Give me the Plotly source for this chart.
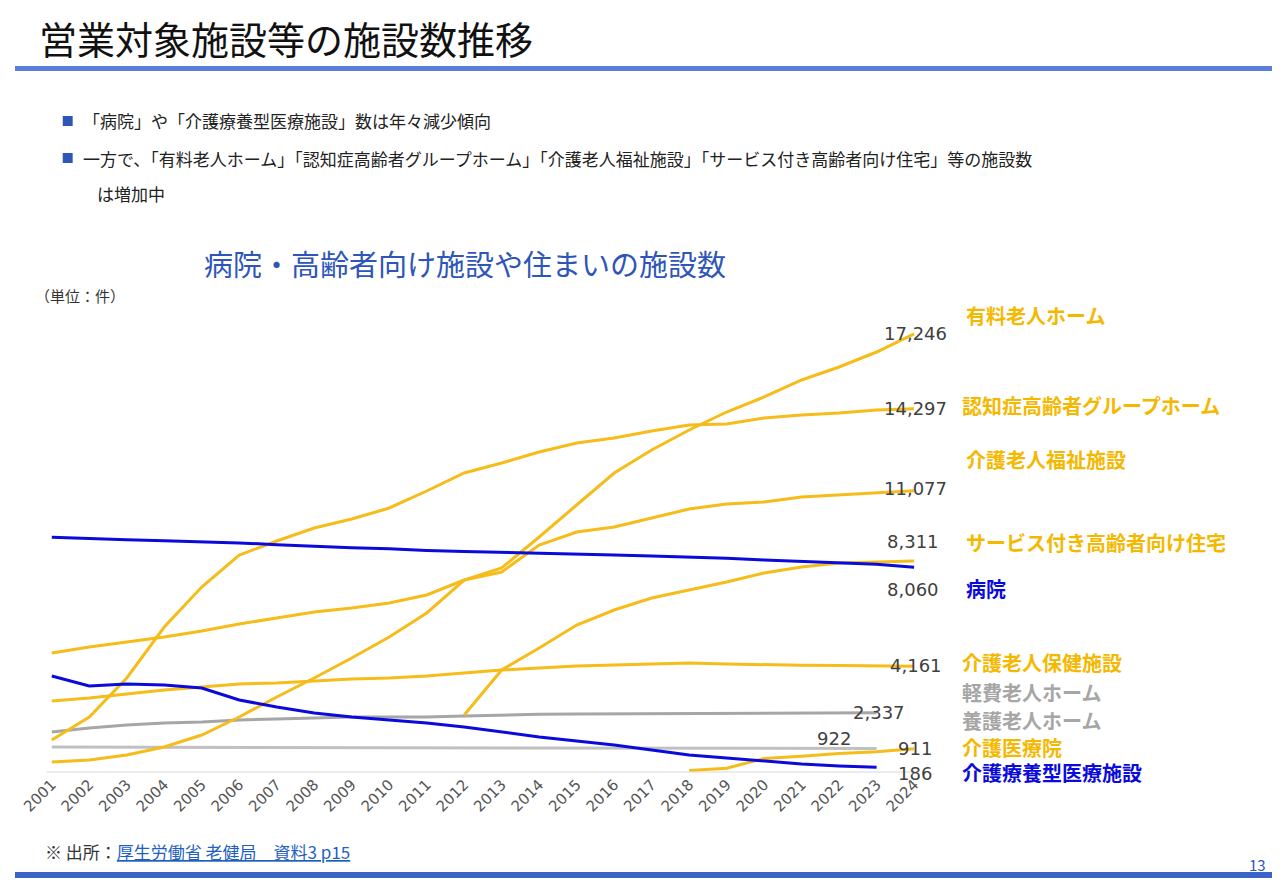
import plotly.graph_objects as go

years = list(range(2001, 2025))

# values (件)
yuryo = [394, 472, 669, 984, 1457, 2165, 2953, 3701, 4488, 5315, 6260, 7559,
         8031, 9252, 10512, 11772, 12677, 13465, 14173, 14764, 15433, 15945, 16535, 17246]
group_home = [1260, 2165, 3701, 5709, 7283, 8543, 9094, 9606, 9961, 10394, 11063, 11772,
              12165, 12598, 12953, 13150, 13425, 13661, 13701, 13937, 14055, 14134, 14252, 14297]
fukushi = [4685, 4921, 5118, 5315, 5551, 5827, 6063, 6299, 6457, 6654, 6969, 7559,
           7874, 8937, 9449, 9646, 10000, 10354, 10551, 10630, 10827, 10906, 10984, 11077]
sakoju = [None] * 11 + [2244, 4016, 4882, 5787, 6378, 6850, 7165, 7480, 7835, 8071, 8228, 8268, 8311]
byoin = [9239, 9180, 9140, 9100, 9060, 9020, 8950, 8880, 8830, 8790, 8720, 8680,
         8650, 8610, 8580, 8540, 8500, 8460, 8420, 8350, 8300, 8240, 8180, 8060]
roken = [2795, 2913, 3070, 3228, 3346, 3464, 3504, 3582, 3661, 3701, 3780, 3898,
         4016, 4095, 4174, 4213, 4252, 4292, 4252, 4213, 4200, 4190, 4180, 4161]
keihi = [1575, 1732, 1850, 1929, 1968, 2047, 2087, 2126, 2165, 2165, 2165, 2205,
         2244, 2270, 2280, 2290, 2300, 2310, 2320, 2325, 2330, 2335, 2337, None]
yogo = [984, 980, 975, 970, 968, 965, 962, 960, 958, 955, 952, 950,
        948, 945, 943, 940, 938, 935, 933, 930, 928, 925, 922, None]
ryoyo = [3780, 3386, 3465, 3425, 3307, 2835, 2559, 2323, 2165, 2047, 1929, 1772,
         1575, 1378, 1220, 1063, 866, 669, 551, 433, 315, 236, 186, None]
iryoin = [None] * 17 + [62, 150, 536, 617, 730, 800, 911]

YEL = "#F5BC1A"
BLU = "#0A0ADB"
GRY = "#A6A6A6"
GRY2 = "#C0C0C0"
FONT = "Noto Sans CJK JP"

# the page body has an 8px margin, so the figure is drawn a bit smaller and offset
OFF = 8
W, H = 1280 - 2 * OFF, 886 - 2 * OFF
def px(x): return (x - OFF) / W
def py(y): return 1 - (y - OFF) / H

series = [
    (yogo, GRY2), (keihi, GRY), (iryoin, YEL), (roken, YEL), (sakoju, YEL),
    (fukushi, YEL), (group_home, YEL), (yuryo, YEL), (ryoyo, BLU), (byoin, BLU),
]

fig = go.Figure()
for vals, col in series:
    fig.add_trace(go.Scatter(x=years, y=vals, mode="lines", line=dict(color=col, width=3),
                             hoverinfo="skip", showlegend=False))

ymax = (772 - 300) * 39.37  # top of plot ~ y pixel 300
fig.update_layout(
    width=W, height=H, margin=dict(l=0, r=0, t=0, b=0),
    paper_bgcolor="white", plot_bgcolor="white",
    font=dict(family=FONT, color="#333"),
    xaxis=dict(domain=[px(20), px(940)], range=[2000.337, 2024.74], tickvals=years,
               ticktext=[str(y) for y in years], tickangle=-45, showgrid=False,
               zeroline=False, showline=False, tickfont=dict(size=15, color="#555", family="DejaVu Sans")),
    yaxis=dict(domain=[py(772), py(300)], range=[0, ymax], showticklabels=False,
               showgrid=False, zeroline=False, showline=False),
)

shapes = [
    dict(type="line", xref="paper", yref="paper", x0=px(40), x1=px(912), y0=py(772), y1=py(772),
         line=dict(color="#D9D9D9", width=1)),
    dict(type="rect", xref="paper", yref="paper", x0=0, x1=1, y0=py(71), y1=py(66),
         line=dict(width=0), fillcolor="#5B7FD6"),
    dict(type="rect", xref="paper", yref="paper", x0=0, x1=1, y0=0, y1=py(872),
         line=dict(width=0), fillcolor="#3C64C8"),
    dict(type="rect", xref="paper", yref="paper", x0=px(56), x1=px(66), y0=py(126), y1=py(116),
         line=dict(width=0), fillcolor="#2E55B8"),
    dict(type="rect", xref="paper", yref="paper", x0=px(56), x1=px(66), y0=py(163), y1=py(153),
         line=dict(width=0), fillcolor="#2E55B8"),
]
fig.update_layout(shapes=shapes)

def ann(x, y, text, size, color="#333", xanchor="left", bold=False, family=FONT):
    if bold:
        text = "<b>" + text + "</b>"
    fig.add_annotation(xref="paper", yref="paper", x=px(x), y=py(y), text=text, showarrow=False,
                       xanchor=xanchor, yanchor="middle", font=dict(size=size, color=color, family=family))

ann(30, 38, "営業対象施設等の施設数推移", 38, "#111")
ann(74, 121, "「病院」や「介護療養型医療施設」数は年々減少傾向", 17, "#222")
ann(74, 158, "一方で、「有料老人ホーム」「認知症高齢者グループホーム」「介護老人福祉施設」「サービス付き高齢者向け住宅」等の施設数", 17, "#222")
ann(88, 194, "は増加中", 17, "#222")
ann(196, 263, "病院・高齢者向け施設や住まいの施設数", 29, "#2E55B8")
ann(26, 295, "（単位：件）", 15, "#333")

# value labels
for x, y, t in [(947, 333, "17,246"), (947, 408, "14,297"), (947, 489, "11,077"),
                (939, 541, "8,311"), (939, 589, "8,060"), (942, 665, "4,161"),
                (905, 712, "2,337"), (932, 748, "911"), (932, 773, "186")]:
    ann(x, y, t, 18, "#404040", xanchor="right", family="DejaVu Sans")
ann(851, 738, "922", 18, "#404040", xanchor="right", family="DejaVu Sans")

# series names
for y, t, c in [(315, "有料老人ホーム", "#F5B800"), (406, "認知症高齢者グループホーム", "#F5B800"),
                (460, "介護老人福祉施設", "#F5B800"), (542, "サービス付き高齢者向け住宅", "#F5B800"),
                (588, "病院", BLU), (662, "介護老人保健施設", "#F5B800"),
                (692, "軽費老人ホーム", GRY), (720, "養護老人ホーム", GRY),
                (747, "介護医療院", "#F5B800"), (772, "介護療養型医療施設", BLU)]:
    ann(962 if y in (315, 460, 542, 588) else 958, y, t, 20, c, bold=True)

ann(36, 851, "※ 出所：<span style='color:#1F5FBF'><u>厚生労働省 老健局　資料3 p15</u></span>", 17, "#333")
ann(1268, 864, "13", 15, "#2E55B8", xanchor="right")

fig.write_html("out.html")
